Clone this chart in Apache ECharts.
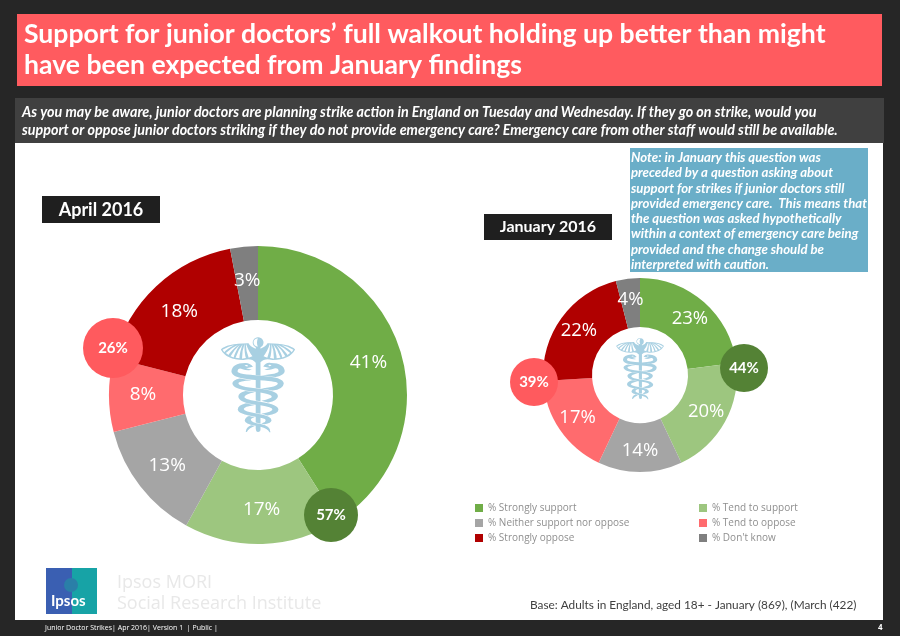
<!DOCTYPE html>
<html><head><meta charset="utf-8">
<script src="https://cdn.jsdelivr.net/npm/echarts@6/dist/echarts.min.js"></script>
<style>html,body{margin:0;padding:0;background:#262626}#c{width:900px;height:636px}</style>
</head><body><div id="c"></div>
<script>
const categories = ['% Strongly support', '% Tend to support', '% Neither support nor oppose', '% Tend to oppose', '% Strongly oppose', "% Don't know"];
const april2016 = [41, 17, 13, 8, 18, 3];
const january2016 = [23, 20, 14, 17, 22, 4];
const aprilNets = [57, 26];     // total support, total oppose
const januaryNets = [44, 39];
const colors = ['#70ad47', '#9dc67f', '#a5a5a5', '#ff6b6e', '#b00000', '#7f7f7f'];

const chart = echarts.init(document.getElementById('c'));

function pieSeries(name, vals, center, radius, fs) {
  return {
    name: name, type: 'pie', center: center, radius: radius,
    startAngle: 90, clockwise: true, avoidLabelOverlap: false,
    silent: true,
    label: { show: true, position: 'inside', formatter: '{c}%', color: '#fff', fontSize: fs, fontFamily: 'Open Sans' },
    labelLine: { show: false },
    itemStyle: { borderWidth: 0 },
    data: categories.map((c, i) => ({ name: c, value: vals[i], itemStyle: { color: colors[i] } }))
  };
}

function badge(cx, cy, r, val, fill, fs) {
  return [
    { type: 'circle', z: 100, shape: { cx: cx, cy: cy, r: r }, style: { fill: fill } },
    { type: 'text', z: 101, x: cx, y: cy, style: { text: val + '%', fill: '#fff', font: 'bold ' + fs + 'px Lato', textAlign: 'center', textVerticalAlign: 'middle' } }
  ];
}

const legendText = { color: '#8f8f8f', fontSize: 10, fontFamily: 'Open Sans' };

chart.setOption({
  backgroundColor: '#262626',
  animation: false,
  color: colors,
  legend: [
    { orient: 'vertical', left: 470, top: 498, itemWidth: 8, itemHeight: 8, itemGap: 5, itemTextGap: 4, icon: 'rect', textStyle: legendText,
      data: [categories[0], categories[2], categories[4]] },
    { orient: 'vertical', left: 694, top: 498, itemWidth: 8, itemHeight: 8, itemGap: 5, itemTextGap: 4, icon: 'rect', textStyle: legendText,
      data: [categories[1], categories[3], categories[5]] }
  ],
  series: [
    pieSeries('April 2016', april2016, [258, 395], [75, 149], 19),
    pieSeries('January 2016', january2016, [640, 375], [48, 97], 18.5)
  ],
  graphic: [
    { type: 'rect', z: 0, shape: { x: 15, y: 143, width: 868, height: 477 }, style: { fill: '#ffffff' } },
    { type: 'rect', z: 0, shape: { x: 17, y: 14, width: 865, height: 72 }, style: { fill: '#ff5b5f' } },
    { type: 'text', z: 1, x: 24, y: 19, style: { text: 'Support for junior doctors\u2019 full walkout holding up better than might\nhave been expected from January findings', fill: '#fff', font: 'bold 26.6px Lato', lineHeight: 31 } },
    { type: 'rect', z: 0, shape: { x: 15, y: 98, width: 869, height: 45 }, style: { fill: '#404040' } },
    { type: 'text', z: 1, x: 22, y: 103, style: { text: 'As you may be aware, junior doctors are planning strike action in England on Tuesday and Wednesday. If they go on strike, would you\nsupport or oppose junior doctors striking if they do not provide emergency care? Emergency care from other staff would still be available.', fill: '#fff', font: 'italic bold 14.3px Lato', lineHeight: 18 } },
    { type: 'rect', z: 1, shape: { x: 630, y: 148, width: 238, height: 124 }, style: { fill: '#6aaec8' } },
    { type: 'text', z: 2, x: 631, y: 150, style: { text: 'Note: in January this question was\npreceded by a question asking about\nsupport for strikes if junior doctors still\nprovided emergency care.  This means that\nthe question was asked hypothetically\nwithin a context of emergency care being\nprovided and the change should be\ninterpreted with caution.', fill: '#fff', font: 'italic bold 13.2px Lato', lineHeight: 15.3, overflow: 'truncate', width: 237, ellipsis: '' } },
    { type: 'rect', z: 1, shape: { x: 42, y: 196, width: 118, height: 27 }, style: { fill: '#1f1f1f' } },
    { type: 'text', z: 2, x: 101, y: 210, style: { text: 'April 2016', fill: '#fff', font: 'bold 18px Lato', textAlign: 'center', textVerticalAlign: 'middle' } },
    { type: 'rect', z: 1, shape: { x: 484, y: 214, width: 128, height: 26 }, style: { fill: '#1f1f1f' } },
    { type: 'text', z: 2, x: 548, y: 227, style: { text: 'January 2016', fill: '#fff', font: 'bold 16px Lato', textAlign: 'center', textVerticalAlign: 'middle' } },
    { type: 'text', z: 50, x: 258, y: 398, style: { text: '\u2624', fill: '#a8d0e2', font: '130px "DejaVu Sans"', textAlign: 'center', textVerticalAlign: 'middle' } },
    { type: 'text', z: 50, x: 640, y: 377, style: { text: '\u2624', fill: '#a8d0e2', font: '84px "DejaVu Sans"', textAlign: 'center', textVerticalAlign: 'middle' } },
    ...badge(331, 515, 27, aprilNets[0], '#548235', 15),
    ...badge(113, 348, 30, aprilNets[1], '#ff5a5e', 15),
    ...badge(744, 368, 24, januaryNets[0], '#548235', 15),
    ...badge(534, 382, 24, januaryNets[1], '#ff5a5e', 15),
    { type: 'text', z: 1, x: 530, y: 599, style: { text: 'Base: Adults in England, aged 18+ - January (869), (March (422)', fill: '#404040', font: '11.8px Lato' } },
    { type: 'rect', z: 1, shape: { x: 46, y: 568, width: 51, height: 46 }, style: { fill: '#3a5fb2' } },
    { type: 'rect', z: 1, shape: { x: 72, y: 568, width: 25, height: 46 }, style: { fill: '#17a3a6' } },
    { type: 'circle', z: 2, shape: { cx: 71, cy: 585, r: 7 }, style: { fill: '#2a7fa8' } },
    { type: 'text', z: 2, x: 51, y: 594, style: { text: 'Ipsos', fill: '#fff', font: 'bold 15px Lato' } },
    { type: 'text', z: 1, x: 117, y: 572, style: { text: 'Ipsos MORI\nSocial Research Institute', fill: '#e8e8e8', font: '18px "Open Sans"', lineHeight: 21 } },
    { type: 'text', z: 1, x: 45, y: 624, style: { text: 'Junior Doctor Strikes| Apr 2016| Version 1  | Public |', fill: '#fff', font: '7px "Open Sans"' } },
    { type: 'text', z: 1, x: 878, y: 624, style: { text: '4', fill: '#fff', font: 'bold 8px "Open Sans"' } }
  ]
});
</script>
</body></html>
